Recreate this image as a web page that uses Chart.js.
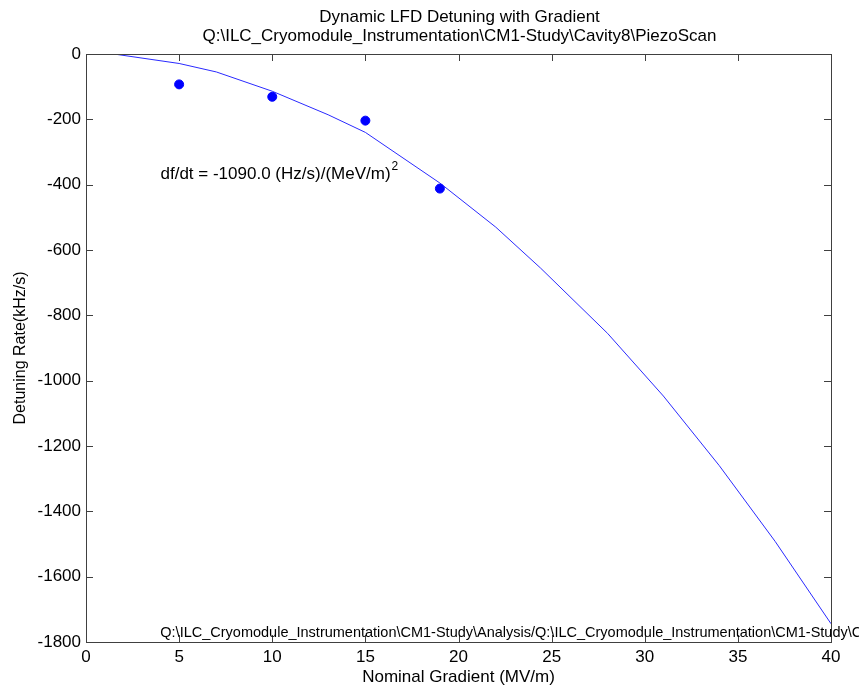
<!DOCTYPE html>
<html>
<head>
<meta charset="utf-8">
<script src="https://cdn.jsdelivr.net/npm/chart.js@4"></script>
<style>
  html, body { margin: 0; padding: 0; background: #fff; }
  #wrap { width: 859px; height: 690px; }
</style>
</head>
<body>
<div id="wrap"><canvas id="c" width="859" height="690"></canvas></div>
<script>
// measured detuning rates
const gradients = [5, 10, 15, 19];
const detuning = [-93, -131, -204, -412];

// fitted curve
const fitGradients = [1.5, 5, 7, 10, 13, 15, 19, 22, 24.4, 28, 31, 34, 37, 40];
const fitDetuning = [0, -29, -55, -114, -186, -240, -395, -530, -655, -855, -1047, -1260, -1492, -1744];

const xTicks = [0, 5, 10, 15, 20, 25, 30, 35, 40];
const yTicks = [0, -200, -400, -600, -800, -1000, -1200, -1400, -1600, -1800];

const titleLines = [
  "Dynamic LFD Detuning with Gradient",
  "Q:\\ILC_Cryomodule_Instrumentation\\CM1-Study\\Cavity8\\PiezoScan",
];
const fitText = "df/dt = -1090.0 (Hz/s)/(MeV/m)";
const pathText = "Q:\\ILC_Cryomodule_Instrumentation\\CM1-Study\\Analysis/Q:\\ILC_Cryomodule_Instrumentation\\CM1-Study\\Cavity8";

const FONT = "'Liberation Sans', Arial, sans-serif";

// box, inward ticks and the free text, matlab style
const matlabAxes = {
  id: "matlabAxes",
  afterDraw(chart) {
    const { ctx, chartArea: a, scales } = chart;
    const x = scales.x, y = scales.y;
    ctx.save();
    ctx.strokeStyle = "#404040";
    ctx.lineWidth = 1;
    ctx.strokeRect(a.left + 0.5, a.top + 0.5, a.right - a.left, a.bottom - a.top);
    ctx.beginPath();
    const len = 7;
    xTicks.forEach((v) => {
      const px = Math.round(x.getPixelForValue(v)) + 0.5;
      ctx.moveTo(px, a.bottom); ctx.lineTo(px, a.bottom - len);
      ctx.moveTo(px, a.top); ctx.lineTo(px, a.top + len);
    });
    yTicks.forEach((v) => {
      const py = Math.round(y.getPixelForValue(v)) + 0.5;
      ctx.moveTo(a.left, py); ctx.lineTo(a.left + len, py);
      ctx.moveTo(a.right, py); ctx.lineTo(a.right - len, py);
    });
    ctx.stroke();

    ctx.fillStyle = "#000";
    ctx.textBaseline = "middle";
    ctx.textAlign = "center";
    ctx.font = "17px " + FONT;
    const cx = (a.left + a.right) / 2 + 1;
    ctx.fillText(titleLines[0], cx, 17);
    ctx.fillText(titleLines[1], cx, 36);

    ctx.textAlign = "left";
    const tx = x.getPixelForValue(4.0);
    const ty = y.getPixelForValue(-369);
    ctx.fillText(fitText, tx, ty);
    const w = ctx.measureText(fitText).width;
    ctx.font = "12px " + FONT;
    ctx.fillText("2", tx + w + 1, ty - 8);

    ctx.font = "14.5px " + FONT;
    ctx.fillText(pathText, x.getPixelForValue(3.99), y.getPixelForValue(-1772));
    ctx.restore();
  },
};

new Chart(document.getElementById("c"), {
  type: "scatter",
  data: {
    datasets: [
      {
        data: gradients.map((g, i) => ({ x: g, y: detuning[i] })),
        backgroundColor: "#0000ff",
        borderColor: "#0000ff",
        pointRadius: 4.5,
        showLine: false,
      },
      {
        data: fitGradients.map((g, i) => ({ x: g, y: fitDetuning[i] })),
        borderColor: "#2a2aff",
        borderWidth: 1,
        pointRadius: 0,
        showLine: true,
        tension: 0,
      },
    ],
  },
  options: {
    responsive: false,
    animation: false,
    layout: { padding: { top: 54, right: 28, left: 0, bottom: 0 } },
    plugins: { legend: { display: false }, tooltip: { enabled: false } },
    scales: {
      x: {
        type: "linear",
        min: 0,
        max: 40,
        afterBuildTicks: (s) => { s.ticks = xTicks.map((v) => ({ value: v })); },
        afterFit: (s) => { s.height = 48; },
        grid: { display: false, drawTicks: false },
        border: { display: false },
        ticks: { color: "#000", font: { family: FONT, size: 17 }, padding: 5, maxRotation: 0, callback: (v) => String(v) },
        title: { display: true, text: "Nominal Gradient (MV/m)", color: "#000", font: { family: FONT, size: 17 }, padding: { top: 0, bottom: 2 } },
      },
      y: {
        type: "linear",
        min: -1800,
        max: 0,
        afterBuildTicks: (s) => { s.ticks = yTicks.map((v) => ({ value: v })); },
        afterFit: (s) => { s.width = 86; },
        grid: { display: false, drawTicks: false },
        border: { display: false },
        ticks: { color: "#000", font: { family: FONT, size: 17 }, padding: 5, callback: (v) => String(v) },
        title: { display: true, text: "Detuning Rate(kHz/s)", color: "#000", font: { family: FONT, size: 16 }, padding: { top: 11, bottom: 0 } },
      },
    },
  },
  plugins: [matlabAxes],
});
</script>
</body>
</html>
